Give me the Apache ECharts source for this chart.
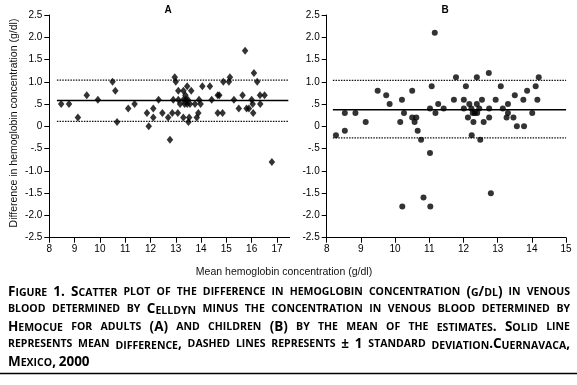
<!DOCTYPE html>
<html><head><meta charset="utf-8">
<script src="https://cdn.jsdelivr.net/npm/echarts@6/dist/echarts.min.js"></script>
<style>html,body{margin:0;padding:0;background:#fff}#c{width:577px;height:385px}</style>
</head><body><div id="c"></div>
<script>
// ---------- data ----------
const panelTitles = ['A', 'B'];
const yTickLabels = {'2.5':'2.5','2':'2.0','1.5':'1.5','1':'1.0','0.5':'.5','0':'0','-0.5':'-.5','-1':'-1.0','-1.5':'-1.5','-2':'-2.0','-2.5':'-2.5'};
const xTicksA = [8, 9, 10, 11, 12, 13, 14, 15, 16, 17];
const xTicksB = [8, 9, 10, 11, 12, 13, 14, 15];

// Panel A (adults): mean hemoglobin (x) and difference (y)
const adultsMean = [8.47,8.78,9.13,9.48,9.92,10.5,10.61,10.68,11.12,11.37,11.86,11.93,12.11,12.11,12.32,12.47,12.7,12.77,12.86,12.9,12.96,13.0,13.08,13.1,13.1,13.17,13.3,13.3,13.3,13.35,13.38,13.4,13.45,13.45,13.5,13.53,13.61,13.76,13.83,13.89,13.92,13.98,14.05,14.35,14.42,14.66,14.72,14.66,14.85,14.88,15.1,15.14,15.3,15.49,15.64,15.74,15.8,15.89,16.0,16.04,16.06,16.09,16.22,16.33,16.34,16.51,16.8,13.48,13.56];
const adultsDiff = [0.5,0.5,0.2,0.7,0.6,1.0,0.8,0.1,0.4,0.5,0.3,0.0,0.2,0.4,0.6,0.3,0.2,-0.3,0.3,0.6,1.1,1.0,0.3,0.8,0.6,0.5,0.8,0.6,0.2,0.5,0.7,0.6,0.9,0.5,0.1,0.2,0.8,0.5,0.2,0.3,0.6,0.5,0.9,0.9,0.6,0.7,0.7,0.3,0.3,1.0,1.0,1.1,0.6,0.4,0.7,1.7,0.4,0.4,0.6,0.5,0.3,1.2,1.0,0.7,0.5,0.7,-0.8,0.6,0.5];
const adultsMeanDiff = 0.58, adultsUpperSD = 1.04, adultsLowerSD = 0.11;
const adultsLineRange = [8.3, 17.45];

// Panel B (children)
const childrenMean = [8.27,8.53,8.53,8.84,9.14,9.49,9.74,9.84,10.15,10.2,10.26,10.5,10.5,10.62,10.57,10.66,10.76,11.02,11.07,11.16,11.18,11.26,11.42,11.02,10.21,10.83,11.03,12.24,12.49,12.8,11.72,11.78,12.01,12.01,12.07,12.13,12.17,12.23,12.27,12.29,12.33,12.39,12.39,12.4,12.46,12.54,12.59,12.74,12.75,12.75,12.94,13.09,13.15,13.26,13.3,13.3,13.46,13.5,13.56,13.75,13.77,13.86,14.01,14.11,14.16,14.2];
const childrenDiff = [-0.2,0.3,-0.1,0.3,0.1,0.8,0.7,0.5,0.1,0.6,0.3,0.8,0.2,0.2,0.1,-0.1,-0.3,0.4,0.9,2.1,0.3,0.5,0.4,-0.6,-1.8,-1.6,-1.8,-0.2,-0.3,-1.5,0.6,1.1,0.6,0.4,0.9,0.2,0.5,0.4,0.3,0.1,0.3,1.1,0.5,0.3,0.4,0.6,0.1,1.2,0.4,0.2,0.6,0.9,0.4,0.2,0.5,0.3,0.2,0.7,0.0,0.6,0.0,0.8,0.3,0.9,0.6,1.1];
const childrenMeanDiff = 0.37, childrenUpperSD = 1.03, childrenLowerSD = -0.26;
const childrenLineRange = [8.18, 15.0];

const yAxisTitle = 'Difference in hemoglobin concentration (g/dl)';
const xAxisTitle = 'Mean hemoglobin concentration (g/dl)';
const captionLines = [
  'Figure 1. Scatter plot of the difference in hemoglobin concentration (g/dl) in venous',
  'blood determined by Celldyn minus the concentration in venous blood determined by',
  'Hemocue for adults (A) and children (B) by the mean of the estimates. Solid line',
  'represents mean difference, dashed lines represents \u00b1 1 standard deviation.Cuernavaca,',
  'Mexico, 2000'
];

// ---------- chart ----------
const TICK_FONT = '"Liberation Sans Narrow", "Liberation Sans", Arial, sans-serif';
const zip = (xs, ys) => xs.map((x, i) => [x, ys[i]]);
const hline = (range, v) => [[range[0], v], [range[1], v]];

function yAxis(gi) {
  return {
    type: 'value', gridIndex: gi, min: -2.5, max: 2.5, interval: 0.5,
    axisLine: {show: true, onZero: false, lineStyle: {color: '#000', width: 1}},
    axisTick: {show: true, length: 5, lineStyle: {color: '#000'}},
    splitLine: {show: false},
    axisLabel: {margin: 7, fontSize: 10, color: '#000', fontFamily: TICK_FONT,
      formatter: v => yTickLabels[String(Math.round(v * 10) / 10)] ?? ''}
  };
}
function xAxis(gi, min, max, ticks) {
  return {
    type: 'value', gridIndex: gi, min, max, interval: 1,
    axisLine: {show: true, onZero: false, lineStyle: {color: '#000', width: 1}},
    axisTick: {show: true, length: 5, lineStyle: {color: '#000'}, customValues: ticks},
    splitLine: {show: false},
    axisLabel: {margin: 7, fontSize: 10, color: '#000', fontFamily: TICK_FONT, customValues: ticks,
      showMinLabel: true, showMaxLabel: true,
      formatter: v => Number.isInteger(v) ? String(v) : ''}
  };
}
function refLine(gx, range, v, solid) {
  return {
    type: 'line', xAxisIndex: gx, yAxisIndex: gx, data: hline(range, v),
    symbol: 'none', silent: true, z: 1, animation: false,
    lineStyle: solid ? {color: '#000', width: 1.5, type: 'solid'}
                     : {color: '#111', width: 1.3, type: [1.5, 1.2]}
  };
}

const chart = echarts.init(document.getElementById('c'), null, {renderer: 'canvas'});

// caption (small caps, justified)
const CAP_FONT = '"Open Sans", Lato, sans-serif';
const BIG = 13.5, SMALL = 10.5;
const ctx = document.createElement('canvas').getContext('2d');
function toRuns(word) {
  const out = [];
  for (const ch of word) {
    const sm = /[a-z]/.test(ch);
    const s = sm ? 's' : 'b';
    const c = sm ? ch.toUpperCase() : ch;
    if (out.length && out[out.length - 1].s === s) out[out.length - 1].t += c;
    else out.push({t: c, s});
  }
  return out;
}
function measure(runs) {
  let w = 0;
  for (const r of runs) { ctx.font = `bold ${r.s === 's' ? SMALL : BIG}px ${CAP_FONT}`; w += ctx.measureText(r.t).width; }
  return w;
}
const rich = {
  b: {fontSize: BIG, fontWeight: 'bold', fontFamily: CAP_FONT, lineHeight: BIG, verticalAlign: 'bottom', fill: '#000'},
  s: {fontSize: SMALL, fontWeight: 'bold', fontFamily: CAP_FONT, lineHeight: SMALL, verticalAlign: 'bottom', fill: '#000'}
};
const capLeft = 8, capRight = 570, capTop = 292, capStep = 17.5;
const graphics = [];
captionLines.forEach((line, i) => {
  const words = line.split(' ').filter(Boolean);
  const rs = words.map(toRuns);
  const ws = rs.map(measure);
  const W = ws.reduce((a, b) => a + b, 0);
  ctx.font = `bold ${SMALL}px ${CAP_FONT}`;
  const sp = ctx.measureText(' ').width;
  const target = capRight - capLeft;
  const nat = W + sp * (words.length - 1);
  let gap = sp, scale = 1;
  if (nat > target) { scale = target / nat; gap = sp * scale; }
  else if (i < captionLines.length - 1) gap = (target - W) / (words.length - 1);
  let x = capLeft;
  rs.forEach((r, k) => {
    graphics.push({type: 'text', x, y: capTop + i * capStep, scaleX: scale, silent: true,
      style: {text: r.map(t => `{${t.s}|${t.t}}`).join(''), rich, fill: '#000', verticalAlign: 'middle', align: 'left'}});
    x += ws[k] * scale + gap;
  });
});
graphics.push({type: 'line', silent: true, shape: {x1: 0, y1: 373.5, x2: 577, y2: 373.5}, style: {stroke: '#000', lineWidth: 1.5}});
graphics.push({type: 'text', x: 14, y: 123, rotation: Math.PI / 2, silent: true,
  style: {text: yAxisTitle, font: '10.5px "Liberation Sans", Arial, sans-serif', fill: '#111', align: 'center', verticalAlign: 'middle'}});
graphics.push({type: 'text', x: 284, y: 272, silent: true,
  style: {text: xAxisTitle, font: '10.5px "Liberation Sans", Arial, sans-serif', fill: '#111', align: 'center', verticalAlign: 'middle'}});
graphics.push({type: 'text', x: 168, y: 10, silent: true,
  style: {text: panelTitles[0], font: 'bold 10px "Liberation Sans", Arial, sans-serif', fill: '#000', align: 'center', verticalAlign: 'middle'}});
graphics.push({type: 'text', x: 445, y: 10, silent: true,
  style: {text: panelTitles[1], font: 'bold 10px "Liberation Sans", Arial, sans-serif', fill: '#000', align: 'center', verticalAlign: 'middle'}});

chart.setOption({
  animation: false,
  backgroundColor: '#fff',
  grid: [
    {left: 49.3, top: 15, width: 240.3, height: 222.7},
    {left: 326.7, top: 15, width: 239.4, height: 222.7}
  ],
  xAxis: [xAxis(0, 8, 17.5, xTicksA), xAxis(1, 8, 15, xTicksB)],
  yAxis: [yAxis(0), yAxis(1)],
  series: [
    refLine(0, adultsLineRange, adultsUpperSD, false),
    refLine(0, adultsLineRange, adultsMeanDiff, true),
    refLine(0, adultsLineRange, adultsLowerSD, false),
    refLine(1, childrenLineRange, childrenUpperSD, false),
    refLine(1, childrenLineRange, childrenMeanDiff, true),
    refLine(1, childrenLineRange, childrenLowerSD, false),
    {type: 'scatter', xAxisIndex: 0, yAxisIndex: 0, data: zip(adultsMean, adultsDiff),
      symbol: 'diamond', symbolSize: [6.5, 8], itemStyle: {color: '#000'}, z: 3},
    {type: 'scatter', xAxisIndex: 1, yAxisIndex: 1, data: zip(childrenMean, childrenDiff),
      symbol: 'circle', symbolSize: 6, itemStyle: {color: '#000'}, z: 3}
  ],
  graphic: graphics
});
</script></body></html>
